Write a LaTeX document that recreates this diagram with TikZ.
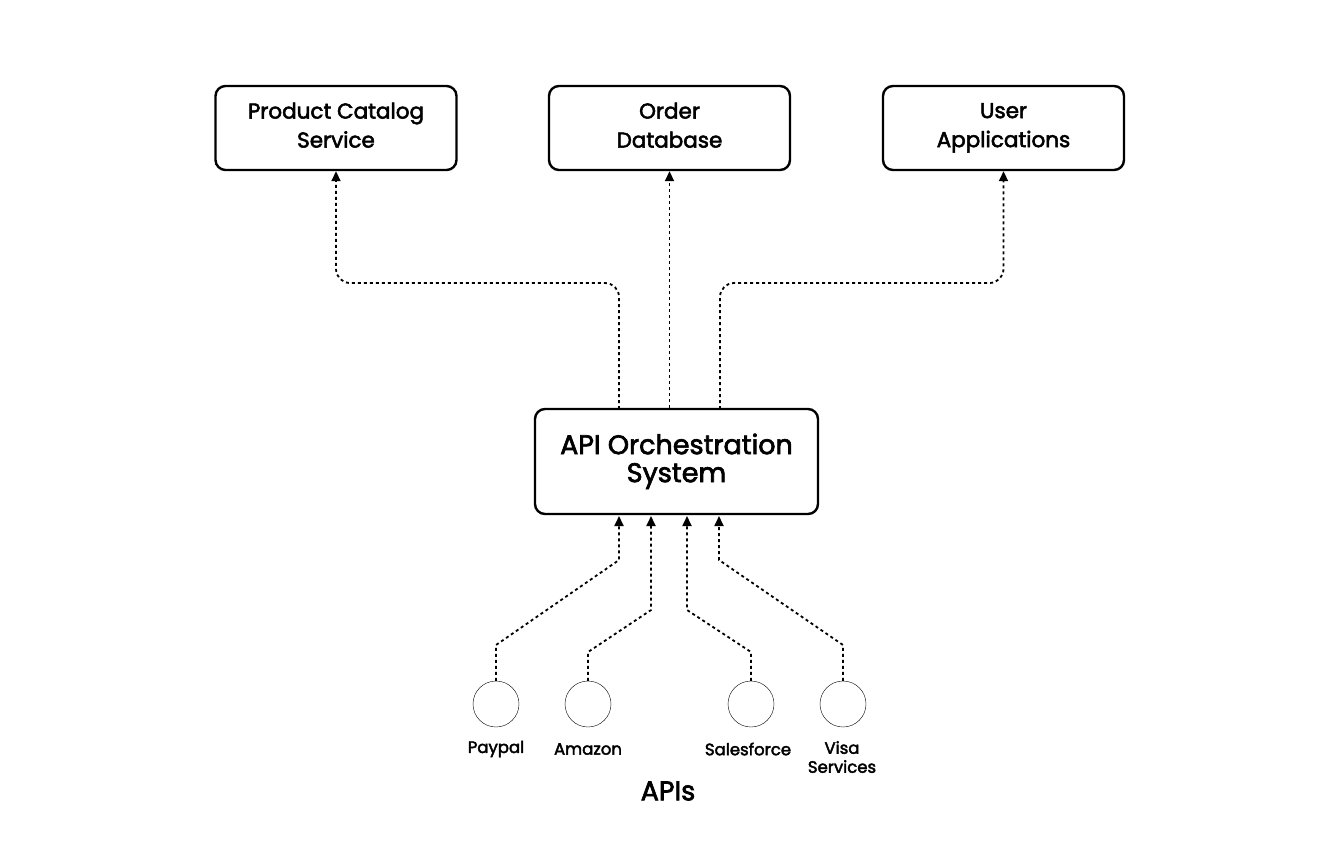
\documentclass[tikz,border=0pt]{standalone}
\usepackage{fontspec}
\setmainfont{Poppins}[RawFeature={embolden=2.5}]
\usetikzlibrary{arrows.meta}
\newcommand{\gp}{\vphantom{gpA}}
\begin{document}
\begin{tikzpicture}[x=1pt,y=-1pt,
 box/.style={draw,line width=2.4pt,rounded corners=10pt,align=center,inner sep=0pt,font=\fontsize{21.5}{29}\selectfont},
 api/.style={draw,thin,circle,minimum size=46pt,inner sep=0pt},
 lbl/.style={font=\fontsize{16.5}{19}\selectfont,align=center,inner sep=0pt},
 conn/.style={dash pattern=on 3pt off 3pt,line width=1.8pt,-{Triangle[length=10pt,width=9pt]}},
 lk/.style={conn,rounded corners=14pt}]
\useasboundingbox (0,0) rectangle (1340,852);
\node[box,minimum width=241pt,minimum height=84pt] (pc) at (336,128) {\gp Product Catalog\\\gp Service\rule[-3pt]{0pt}{1pt}};
\node[box,minimum width=241pt,minimum height=84pt] (od) at (669.5,128) {\gp Order\\\gp Database\rule[-3pt]{0pt}{1pt}};
\node[box,minimum width=241pt,minimum height=84pt] (ua) at (1003.5,128) {\gp User\\\gp Applications\rule[-3pt]{0pt}{1pt}};
\node[box,minimum width=283pt,minimum height=105pt,font=\fontsize{27}{28}\selectfont] (aos) at (676.5,461.5) {\gp API Orchestration\\\gp System\rule[-3pt]{0pt}{1pt}};
\node[api] (pp) at (496,704) {};
\node[api] (am) at (588,704) {};
\node[api] (sf) at (751,704) {};
\node[api] (vs) at (843,704) {};
\node[lbl] (lpp) at (496,749) {Paypal};
\node[lbl] (lam) at (588,749) {Amazon};
\node[lbl] (lsf) at (748,749) {Salesforce};
\node[lbl,anchor=north] (lvs) at (842,741) {Visa\\Services};
\node[font=\fontsize{27}{28}\selectfont,inner sep=0pt] (apis) at (668,791) {APIs};
\coordinate (t1) at (619,409); \coordinate (t3) at (720,409);
\coordinate (b1) at (619,516); \coordinate (b2) at (651,516);
\coordinate (b3) at (687,516); \coordinate (b4) at (719,516);
\draw[lk] (t1) -- (619,283) -- (336,283) -- (pc.south);
\draw[conn] (aos.north -| od.south) -- (od.south);
\draw[lk] (t3) -- (720,283) -- (1003.5,283) -- (ua.south);
\draw[conn] (pp.north) -- (496,645) -- (619,560) -- (b1);
\draw[conn] (am.north) -- (588,652) -- (651,610) -- (b2);
\draw[conn] (sf.north) -- (751,652) -- (687,610) -- (b3);
\draw[conn] (vs.north) -- (843,645) -- (719,560) -- (b4);
\end{tikzpicture}
\end{document}
